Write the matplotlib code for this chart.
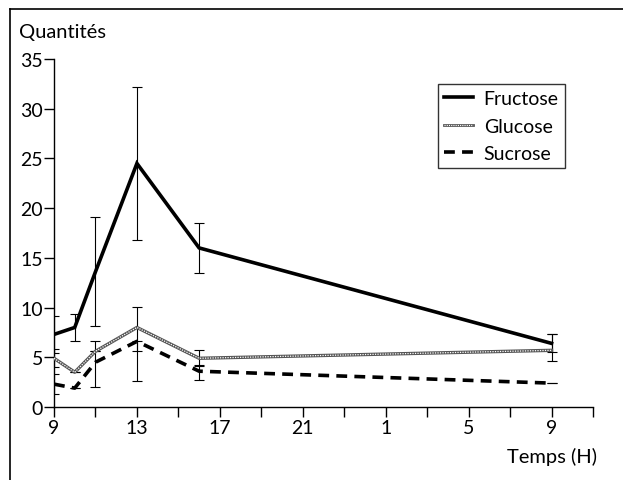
import matplotlib
matplotlib.use("Agg")
import matplotlib.pyplot as plt
from matplotlib.lines import Line2D

# Time in hours (next day hours = 24 + h)
hours_fru = [9, 10, 11, 13, 16, 33]
fructose = [7.3, 8.0, 13.6, 24.5, 16.0, 6.4]
fru_err = [1.9, 1.4, 5.5, 7.7, 2.5, 0.9]

hours_glu = [9, 10, 11, 13, 16, 33]
glucose = [4.9, 3.5, 5.6, 8.0, 4.9, 5.7]
glu_err_lo = [0.9, 0.0, 0.0, 2.4, 0.8, 1.1]
glu_err_hi = [0.9, 0.0, 0.0, 2.1, 0.8, 1.6]

hours_suc = [9, 10, 11, 13, 16, 33]
sucrose = [2.3, 1.9, 4.5, 6.6, 3.6, 2.4]
suc_err_lo = [1.0, 0.0, 2.5, 4.0, 0.9, 0.0]
suc_err_hi = [1.0, 0.0, 2.1, 0.0, 0.6, 0.0]

xticks_major = [9, 13, 17, 21, 25, 29, 33]
xtick_labels = ['9', '13', '17', '21', '1', '5', '9']
xticks_minor = [11, 15, 19, 23, 27, 31, 35]
yticks = [0, 5, 10, 15, 20, 25, 30, 35]

plt.rcParams['font.family'] = ['Lato', 'DejaVu Sans']
FS = 14.5

fig = plt.figure(figsize=(6.23, 4.81), dpi=100)
ax = fig.add_axes([54/623, 1-408/481, (593-54)/623, (408-60)/481])

# error bars
eb = dict(fmt='none', ecolor='black', elinewidth=0.8, capsize=3.5, capthick=0.8, zorder=2)
ax.errorbar(hours_fru, fructose, yerr=fru_err, **eb)
ax.errorbar(hours_glu, glucose, yerr=[glu_err_lo, glu_err_hi], **eb)
ax.errorbar(hours_suc, sucrose, yerr=[suc_err_lo, suc_err_hi], **eb)

# lines
ax.plot(hours_fru, fructose, color='black', lw=2.6, solid_joinstyle='miter', zorder=3)
ax.plot(hours_glu, glucose, color='#555555', lw=2.4, zorder=3)
ax.plot(hours_glu, glucose, color='white', lw=0.9, linestyle=(0, (1, 1)), zorder=4)
ax.plot(hours_suc, sucrose, color='black', lw=2.6, linestyle=(0, (3.0, 2.0)), zorder=3)

ax.set_xlim(9, 35)
ax.set_ylim(0, 35)
for s in ['top', 'right']:
    ax.spines[s].set_visible(False)
for s in ['left', 'bottom']:
    ax.spines[s].set_linewidth(1.0)

ax.set_xticks(xticks_major)
ax.set_xticklabels(xtick_labels)
ax.set_xticks(xticks_minor, minor=True)
ax.set_yticks(yticks)
ax.set_yticklabels([str(v) for v in yticks])
ax.tick_params(axis='both', which='both', direction='out', length=7.5, width=1.0,
               labelsize=FS - 0.5, pad=1.5)
ax.tick_params(axis='y', pad=0.5)

# labels
fig.text(19/623, 1-33/481, 'Quantités', fontsize=FS, ha='left', va='center')
fig.text(597/623, 1-457/481, 'Temps (H)', fontsize=FS, ha='right', va='center')

# legend
h_fru = Line2D([], [], color='black', lw=2.6)
h_glu = (Line2D([], [], color='#555555', lw=2.0), Line2D([], [], color='white', lw=0.8, linestyle=(0, (1, 1))))
h_suc = Line2D([], [], color='black', lw=2.6, linestyle=(0, (3.0, 2.0)))
leg = ax.legend([h_fru, h_glu, h_suc], ['Fructose', 'Glucose', 'Sucrose'],
                loc='upper left', bbox_to_anchor=((438-54)/539, (408-85)/348),
                fontsize=FS - 0.5, frameon=True, fancybox=False, edgecolor='black',
                handlelength=1.5, handletextpad=0.55, borderpad=0.3, labelspacing=0.55,
                borderaxespad=0)
leg.get_frame().set_linewidth(1.0)

# outer frame lines (top and left)
fig.add_artist(Line2D([10/623, 1.0], [1-10/481, 1-10/481], color='black', lw=1.2, transform=fig.transFigure))
fig.add_artist(Line2D([10/623, 10/623], [1-10/481, 0], color='black', lw=1.2, transform=fig.transFigure))

fig.savefig('out.png', dpi=100)
